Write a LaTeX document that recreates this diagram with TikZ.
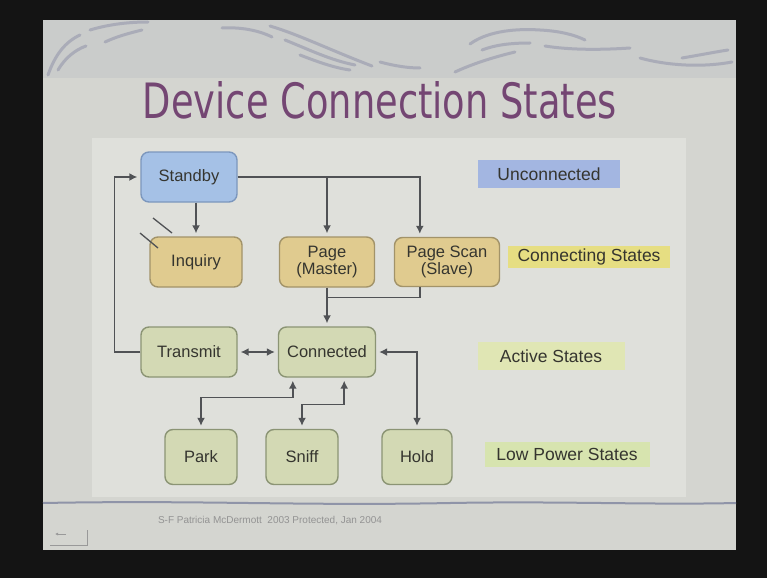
\documentclass[tikz,border=0pt]{standalone}
\usepackage{fontspec}
\setmainfont{Liberation Sans}
\newfontfamily\titlefont{DejaVu Sans}
\usetikzlibrary{arrows.meta,calc}

\definecolor{frame}{HTML}{141414}
\definecolor{slidebg}{HTML}{D4D5D0}
\definecolor{bandbg}{HTML}{CACCCB}
\definecolor{panelbg}{HTML}{DFE0DB}
\definecolor{swirl}{HTML}{AAACB8}
\definecolor{titlecol}{HTML}{744673}
\definecolor{txt}{HTML}{35352F}
\definecolor{wire}{HTML}{505255}
\definecolor{bluefill}{HTML}{A5C1E6}
\definecolor{blueline}{HTML}{7C97BD}
\definecolor{tanfill}{HTML}{E0CB8F}
\definecolor{tanline}{HTML}{A29369}
\definecolor{greenfill}{HTML}{D3D9B4}
\definecolor{greenline}{HTML}{8B9474}
\definecolor{unconn}{HTML}{A3B6E1}
\definecolor{connst}{HTML}{E6DE82}
\definecolor{activest}{HTML}{E0E6B4}
\definecolor{lowst}{HTML}{D7E4AF}
\definecolor{rule}{HTML}{8F94A8}

\tikzset{
  state/.style={draw, line width=1.4pt, rounded corners=8pt, align=center,
    text=txt, font=\fontsize{16.5}{17}\selectfont, inner sep=0pt},
  idle/.style={state, fill=bluefill, draw=blueline},
  linking/.style={state, fill=tanfill, draw=tanline},
  active/.style={state, fill=greenfill, draw=greenline},
  legend/.style={text=txt, font=\fontsize{17.5}{18}\selectfont, inner sep=0pt},
  wireline/.style={draw=wire, line width=1.5pt},
  arr/.style={wireline, -{Latex[length=8pt,width=8pt]}, shorten >=3pt},
  biarr/.style={wireline, {Latex[length=8pt,width=8pt]}-{Latex[length=8pt,width=8pt]}, shorten >=3pt, shorten <=3pt},
  swirlline/.style={draw=swirl, line width=3pt, line cap=round}
}

\begin{document}
\begin{tikzpicture}[x=1pt,y=-1pt]
  % frame and slide
  \fill[frame] (0,0) rectangle (767,578);
  \useasboundingbox (0,0) rectangle (767,578);
  \fill[slidebg] (43,20) rectangle (736,550);
  \fill[bandbg] (43,20) rectangle (736,78);
  \fill[panelbg] (92,138) rectangle (686,497);

  % decorative swirls in the header band
  \draw[swirlline] (48,75) .. controls (55,55) and (65,42) .. (80,35);
  \draw[swirlline] (58,70) .. controls (65,58) and (75,50) .. (86,46);
  \draw[swirlline] (90,30) .. controls (110,24) and (130,22) .. (148,22);
  \draw[swirlline] (105,42) .. controls (118,36) and (130,33) .. (142,30);
  \draw[swirlline] (222,28) .. controls (240,27) and (258,30) .. (272,37);
  \draw[swirlline] (270,26) .. controls (300,35) and (330,50) .. (372,66);
  \draw[swirlline] (285,40) .. controls (310,50) and (330,60) .. (355,65);
  \draw[swirlline] (300,55) .. controls (318,62) and (335,68) .. (350,70);
  \draw[swirlline] (380,62) .. controls (395,66) and (408,68) .. (420,68);
  \draw[swirlline] (470,44) .. controls (485,33) and (510,28) .. (540,30)
                   .. controls (560,31) and (575,35) .. (585,40);
  \draw[swirlline] (482,50) .. controls (495,45) and (510,43) .. (530,43);
  \draw[swirlline] (455,72) .. controls (470,65) and (490,58) .. (515,52);
  \draw[swirlline] (545,46) .. controls (570,50) and (600,50) .. (630,48);
  \draw[swirlline] (640,58) .. controls (665,65) and (700,68) .. (732,62);
  \draw[swirlline] (682,58) .. controls (700,55) and (715,52) .. (728,50);

  % title
  \node[text=titlecol, inner sep=0pt] (title) at (380,100)
    {\resizebox{474pt}{37pt}{\titlefont Device Connection States}};

  % states
  \node[idle, minimum width=96pt, minimum height=50pt] (standby) at (189,177) {Standby};
  \node[linking, minimum width=92pt, minimum height=50pt] (inquiry) at (196,262) {Inquiry};
  \node[linking, minimum width=95pt, minimum height=50pt] (page) at (327,262) {Page\\(Master)};
  \node[linking, minimum width=105pt, minimum height=49pt] (pagescan) at (447,262) {Page Scan\\(Slave)};
  \node[active, minimum width=96pt, minimum height=50pt] (transmit) at (189,352) {Transmit};
  \node[active, minimum width=97pt, minimum height=50pt] (connected) at (327,352) {Connected};
  \node[active, minimum width=72pt, minimum height=55pt] (park) at (201,457) {Park};
  \node[active, minimum width=72pt, minimum height=55pt] (sniff) at (302,457) {Sniff};
  \node[active, minimum width=70pt, minimum height=55pt] (hold) at (417,457) {Hold};

  % legend
  \node[legend, fill=unconn, minimum width=142pt, minimum height=28pt] (lunconn) at (549,174) {Unconnected};
  \node[legend, fill=connst, minimum width=162pt, minimum height=22pt] (lconn) at (589,257) {Connecting States};
  \node[legend, fill=activest, minimum width=147pt, minimum height=28pt] (lactive) at (551,356) {Active States};
  \node[legend, fill=lowst, minimum width=165pt, minimum height=25pt] (llow) at (567,454) {Low Power States};

  % transitions out of Standby
  \draw[arr] (inquiry.north |- standby.south) -- (inquiry.north);
  \draw[arr] (standby.east) -| ([xshift=26pt]pagescan.north west);
  \draw[arr] (page.north |- standby.east) -- (page.north);

  % into Connected
  \coordinate (join) at ($(page.south)!0.25!(connected.north)$);
  \draw[arr] (page.south) -- (connected.north);
  \draw[wireline] ([xshift=26pt]pagescan.south west) |- (join);

  % Transmit back to Standby
  \draw[arr] (transmit.west) -- ++(-26,0) |- (standby.west);
  \draw[biarr] (transmit.east) -- (connected.west);

  % low power states
  \draw[biarr] ([xshift=15pt]connected.south west) -- ++(0,20) -| (park.north);
  \draw[biarr] ([xshift=-32pt]connected.south east) -- ++(0,27) -| (sniff.north);
  \draw[biarr] (connected.east) -| (hold.north);

  % stray strokes beside Inquiry
  \draw[draw=wire, line width=1.3pt] (153,218) -- (172,233);
  \draw[draw=wire, line width=1.3pt] (140,233) -- (158,248);

  % footer
  \draw[draw=rule, line width=2pt] (43,503) .. controls (200,500) and (300,506) .. (450,503)
        .. controls (560,501) and (650,505) .. (736,503);
  \node[text=gray!85, font=\fontsize{10}{11}\selectfont, inner sep=0pt] (footer) at (270,521)
    {S-F Patricia McDermott \ 2003 Protected, Jan 2004};
  \draw[draw=gray!80, line width=1pt] (50,545) -- (87,545) -- (87,530);
  \draw[draw=gray!80, line width=1pt, -{Latex[length=3pt,width=3pt]}] (66,534) -- (55,534);
\end{tikzpicture}
\end{document}
